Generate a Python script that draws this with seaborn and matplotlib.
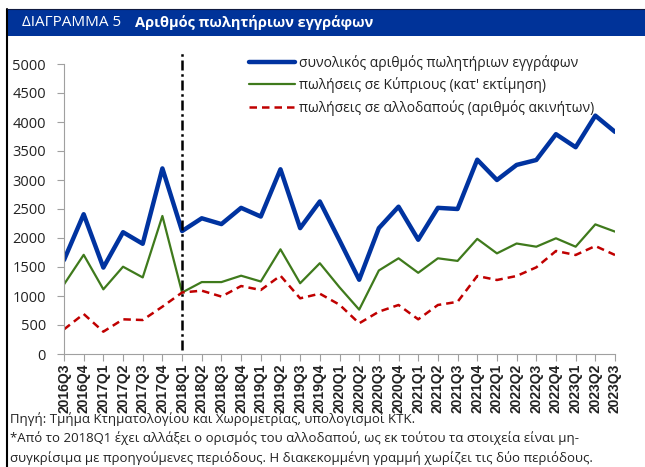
import matplotlib
matplotlib.use("Agg")
import matplotlib.pyplot as plt
import seaborn as sns
import pandas as pd
from matplotlib.patches import Rectangle
from matplotlib.lines import Line2D

quarters = ["2016Q3", "2016Q4", "2017Q1", "2017Q2", "2017Q3", "2017Q4",
            "2018Q1", "2018Q2", "2018Q3", "2018Q4", "2019Q1", "2019Q2",
            "2019Q3", "2019Q4", "2020Q1", "2020Q2", "2020Q3", "2020Q4",
            "2021Q1", "2021Q2", "2021Q3", "2021Q4", "2022Q1", "2022Q2",
            "2022Q3", "2022Q4", "2023Q1", "2023Q2", "2023Q3"]
total = [1620, 2410, 1490, 2100, 1900, 3200, 2120, 2340, 2240, 2520, 2370, 3185,
         2170, 2630, 1960, 1280, 2170, 2540, 1970, 2520, 2500, 3350, 3000, 3260,
         3345, 3790, 3565, 4110, 3830]
cypriots = [1200, 1710, 1115, 1505, 1320, 2380, 1060, 1240, 1240, 1350, 1250, 1805,
            1220, 1565, 1150, 765, 1440, 1650, 1400, 1650, 1605, 1985, 1735, 1905,
            1850, 1995, 1850, 2235, 2110]
foreigners = [425, 690, 385, 598, 586, 816, 1060, 1092, 990, 1172, 1103, 1350,
              960, 1040, 850, 529, 730, 845, 598, 845, 900, 1345, 1276, 1345,
              1494, 1776, 1707, 1862, 1707]
labels = ["συνολικός αριθμός πωλητήριων εγγράφων",
          "πωλήσεις σε Κύπριους (κατ' εκτίμηση)",
          "πωλήσεις σε αλλοδαπούς (αριθμός ακινήτων)"]
yticks = [0, 500, 1000, 1500, 2000, 2500, 3000, 3500, 4000, 4500, 5000]
break_quarter = "2018Q1"

df = pd.DataFrame({"q": quarters, "total": total, "cyp": cypriots, "for": foreigners})

sns.set_theme(style="white")
plt.rcParams['font.family'] = ['Open Sans', 'DejaVu Sans']

fig = plt.figure(figsize=(6.45, 4.67), dpi=100)
ax = fig.add_axes([64/645, 1-354/467, (615-64)/645, (354-64)/467])

blue = "#0033A0"
green = "#3F7A1C"
red = "#C00000"

sns.lineplot(data=df, x="q", y="total", ax=ax, color=blue, linewidth=3.2,
             label=labels[0], sort=False)
sns.lineplot(data=df, x="q", y="cyp", ax=ax, color=green, linewidth=1.6,
             label=labels[1], sort=False)
sns.lineplot(data=df, x="q", y="for", ax=ax, color=red, linewidth=1.8,
             label=labels[2], sort=False)
ax.lines[-1].set_linestyle((0, (3, 2)))

bi = quarters.index(break_quarter)
ax.axvline(bi, ymin=0.015, ymax=1.038, color="black", linewidth=1.8,
           linestyle=(0, (4, 1.5, 1, 1.5)), clip_on=False)

ax.set_xlim(0, len(quarters) - 1)
ax.set_ylim(0, 5000)
ax.set_yticks(yticks)
ax.set_xticks(range(len(quarters)))
ax.set_xticklabels(quarters, rotation=90, fontsize=10, fontweight="bold",
                   family=["Liberation Sans", "DejaVu Sans"])
ax.tick_params(axis="y", labelsize=10.5, length=5, width=0.8, color="#A0A0A0",
               pad=8, labelcolor="#222222", left=True)
ax.tick_params(axis="x", length=5, width=0.8, color="#A0A0A0", pad=2,
               labelcolor="#222222", bottom=True)
ax.set_xlabel("")
ax.set_ylabel("")
for s in ["top", "right"]:
    ax.spines[s].set_visible(False)
for s in ["left", "bottom"]:
    ax.spines[s].set_color("#A0A0A0")
    ax.spines[s].set_linewidth(0.8)

leg = ax.legend(loc="upper left", bbox_to_anchor=(249/645, 1-55/467),
                bbox_transform=fig.transFigure, frameon=False, fontsize=10,
                handlelength=3.3, handletextpad=0.3, labelspacing=0.45,
                borderpad=0, borderaxespad=0)
for t in leg.get_texts():
    t.set_color("#222222")

# title bar
fig.patches.append(Rectangle((8/645, 1-36/467), 1, 27/467, transform=fig.transFigure,
                             facecolor="#003399", edgecolor="none", zorder=0))
fig.lines.append(Line2D([7/645, 7/645], [0, 1-9/467], transform=fig.transFigure,
                        color="black", linewidth=1.5))
fig.lines.append(Line2D([7/645, 1], [1-8.5/467, 1-8.5/467], transform=fig.transFigure,
                        color="#101a40", linewidth=0.8))
fig.text(22/645, 1-22.5/467, "ΔΙΑΓΡΑΜΜΑ 5", color="white", fontsize=11,
         va="center", ha="left")
fig.text(135/645, 1-22.5/467, "Αριθμός πωλητήριων εγγράφων", color="white",
         fontsize=10.5, fontweight="bold", va="center", ha="left")

foot = ["Πηγή: Τμήμα Κτηματολογίου και Χωρομετρίας, υπολογισμοί ΚΤΚ.",
        "*Από το 2018Q1 έχει αλλάξει ο ορισμός του αλλοδαπού, ως εκ τούτου τα στοιχεία είναι μη-",
        "συγκρίσιμα με προηγούμενες περιόδους. Η διακεκομμένη γραμμή χωρίζει τις δύο περιόδους."]
for i, line in enumerate(foot):
    fig.text(10/645, 1-(419 + 19.5*i)/467, line, fontsize=9.5, va="center",
             ha="left", color="#222222")

fig.savefig("out.png", dpi=100)
